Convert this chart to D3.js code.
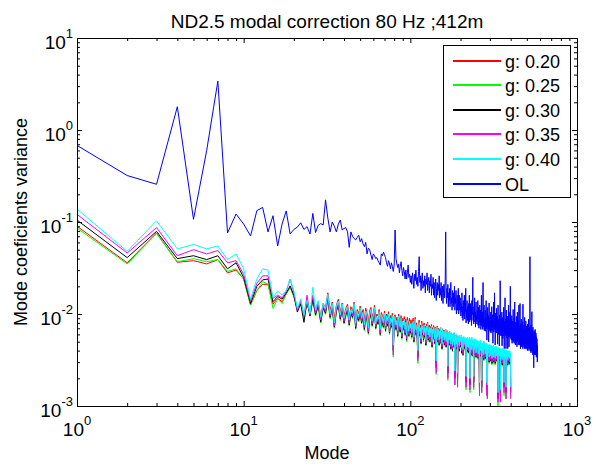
<!DOCTYPE html>
<html><head><meta charset="utf-8">
<script src="https://cdn.jsdelivr.net/npm/d3@7"></script>
<style>body{margin:0;background:#fff}svg text{font-family:"Liberation Sans",Arial,sans-serif;fill:#000}</style>
</head><body>
<svg id="chart" width="596" height="467"></svg>
<script>
const chartTitle = "ND2.5 modal correction 80 Hz ;412m";
const xLabel = "Mode";
const yLabel = "Mode coeficients variance";
const xTickValues = [1, 10, 100, 1000];
const xTickExponents = ["0", "1", "2", "3"];
const yTickValues = [0.001, 0.01, 0.1, 1, 10];
const yTickExponents = ["-3", "-2", "-1", "0", "1"];
const seriesNames = ["g: 0.20", "g: 0.25", "g: 0.30", "g: 0.35", "g: 0.40", "OL"];
const seriesColors = ["#ff0000", "#00ff00", "#000000", "#ff00ff", "#00ffff", "#0000ff"];

// variance per mode (mode = index + 1)
const g020 = [.090,.036,.076,.0365,.038,.035,.039,.028,.030,.024,.0125,.018,.021,.021,.0128,.0148,.0136,.0165,.0195,.0155,.0115,.0128,.0095,.0125,.0105,
.0150,.0112,.0135,.0095,.0130,
.0118,.0170,.0110,.0135,.0090,.0125,.0145,.0105,.0132,.0095,
.0115,.0128,.0092,.0120,.0108,.0135,.0085,.0112,.0100,.0122,
.0096,.0112,.0085,.0116,.0102,.0080,.0108,.0118,.0092,.0104,
.0124,.0088,.0100,.0095,.0112,.0078,.0104,.0096,.0088,.0108,
.0082,.0100,.0092,.0106,.0078,.0096,.0088,.0102,.0055,.0094,
.0098,.0084,.0092,.0074,.0100,.0086,.0080,.0096,.0070,.0090,
.0084,.0094,.0076,.0088,.0068,.0092,.0082,.0074,.0090,.0078,
.0086,.0072,.0084,.0090,.0066,.0082,.0092,.0076,.0080,.0070,
.0042,.0080,.0086,.0072,.0076,.0062,.0084,.0074,.0078,.0066,
.0080,.0068,.0074,.0058,.0078,.0070,.0082,.0064,.0072,.0076,
.0062,.0073,.0068,.0077,.0055,.0071,.0065,.0075,.0069,.0059,
.0072,.0065,.0030,.0068,.0074,.0060,.0066,.0070,.0056,.0068,
.0061,.0071,.0057,.0065,.0050,.0069,.0063,.0059,.0067,.0055,
.0064,.0058,.0068,.0052,.0062,.0066,.0056,.0026,.0063,.0059,
.0053,.0065,.0057,.0061,.0048,.0062,.0055,.0059,.0046,.0060,
.0056,.0050,.0062,.0054,.0022,.0057,.0051,.0059,.0047,.0055,
.0053,.0021,.0057,.0049,.0055,.0051,.0045,.0056,.0050,.0054,
.0046,.0055,.0040,.0050,.0048,.0053,.0038,.0049,.0054,.0044,
.0050,.0046,.0053,.0042,.0048,.0019,.0051,.0045,.0049,.0041,
.0053,.0046,.0048,.0040,.0050,.0044,.0053,.0018,.0047,.0045,
.0050,.0038,.0048,.0053,.0042,.0046,.0049,.0037,.0047,.0019,
.0048,.0044,.0050,.0038,.0046,.0042,.0049,.0036,.0045,.0047,
.0040,.0048,.0043,.0046,.0035,.0047,.0042,.0045,.0039,.0016,
.0046,.0042,.0048,.0037,.0044,.0040,.0046,.0017,.0043,.0041,
.0045,.0036,.0044,.0040,.0047,.0034,.0043,.0041,.0046,.0038,
.0042,.0044,.0035,.0043,.0040,.0045,.0033,.0016,.0042,.0015,
.0041,.0044,.0036,.0042,.0039,.0043,.0032,.0041,.0038,.0044,
.0037,.0042,.0039,.0033,.0043,.0040,.0038,.0042,.0031,.0041,
.0039,.0042,.0034,.0040,.0038,.0043,.0032,.0039,.0041,.0036,
.0040,.0038,.0031,.0041,.0037,.0039,.0042,.0033,.0038,.0040,
.0036,.0041,.0038,.0032,.0039,.0013,.0040,.0037,.0035,.0039,
.0038,.0033,.0040,.0036,.0039,.0030,.0014,.0038,.0035,.0039,
.0037,.0032,.0039,.0036,.0038,.0030,.0037,.0039,.0034,.0037,
.0035,.0038,.0032,.0037,.0017,.0036,.0038,.0033,.0037,.0035,
.0031,.0037,.0035,.0038,.0015,.0036,.0033,.0037,.0035,.0032,
.0037,.0034,.0036,.0030,.0037,.0035,.0032,.0036,.0034,.0037,
.0033,.0036,.0031,.0035,.0037,.0032,.0034,.0036,.0033,.0015];

const g025 = [.086,.035,.075,.037,.040,.037,.039,.029,.031,.024,.0125,.018,.0225,.021,.0115,.0147,.013,.0165,.0195,.0155,.011,.0128,.0092,.0135,.0096,
.0140,.0095,.0120,.0080,.0114,
.0099,.0145,.0089,.0114,.0070,.0105,.0121,.0085,.0112,.0078,
.0095,.0107,.0074,.0099,.0089,.0114,.0068,.0092,.0082,.0102,
.0078,.0090,.0066,.0095,.0083,.0060,.0087,.0097,.0073,.0085,
.0103,.0068,.0081,.0076,.0092,.0058,.0085,.0078,.0070,.0089,
.0064,.0082,.0073,.0087,.0060,.0078,.0070,.0083,.0034,.0076,
.0080,.0066,.0074,.0056,.0082,.0068,.0062,.0078,.0053,.0072,
.0066,.0076,.0058,.0070,.0050,.0074,.0064,.0056,.0072,.0060,
.0068,.0054,.0066,.0072,.0049,.0064,.0076,.0058,.0062,.0052,
.0029,.0064,.0070,.0056,.0060,.0047,.0068,.0058,.0062,.0050,
.0066,.0054,.0060,.0045,.0064,.0056,.0068,.0050,.0058,.0062,
.0049,.0060,.0054,.0064,.0043,.0058,.0052,.0062,.0056,.0047,
.0060,.0053,.0022,.0056,.0062,.0049,.0054,.0058,.0045,.0056,
.0050,.0060,.0047,.0054,.0041,.0058,.0052,.0049,.0056,.0045,
.0054,.0049,.0058,.0043,.0052,.0056,.0047,.0019,.0054,.0050,
.0045,.0056,.0049,.0052,.0041,.0054,.0047,.0050,.0039,.0052,
.0049,.0043,.0054,.0047,.0017,.0050,.0045,.0052,.0041,.0049,
.0047,.0016,.0050,.0043,.0049,.0045,.0039,.0050,.0044,.0048,
.0043,.0050,.0037,.0047,.0045,.0049,.0035,.0046,.0049,.0041,
.0047,.0043,.0049,.0039,.0045,.0015,.0048,.0042,.0046,.0038,
.0049,.0043,.0045,.0037,.0047,.0041,.0049,.0014,.0044,.0042,
.0047,.0035,.0045,.0049,.0039,.0043,.0046,.0034,.0044,.0015,
.0045,.0041,.0047,.0035,.0043,.0039,.0046,.0033,.0042,.0044,
.0037,.0045,.0040,.0043,.0032,.0044,.0039,.0042,.0036,.0013,
.0043,.0039,.0045,.0034,.0041,.0037,.0043,.0014,.0040,.0038,
.0042,.0033,.0041,.0037,.0044,.0031,.0040,.0038,.0043,.0035,
.0039,.0041,.0032,.0040,.0037,.0042,.0030,.0013,.0039,.0012,
.0038,.0041,.0033,.0039,.0036,.0040,.0029,.0038,.0035,.0041,
.0034,.0039,.0036,.0030,.0040,.0037,.0035,.0039,.0028,.0038,
.0036,.0039,.0031,.0037,.0035,.0040,.0029,.0036,.0038,.0033,
.0037,.0035,.0028,.0038,.0034,.0036,.0039,.0030,.0035,.0037,
.0033,.0038,.0035,.0029,.0036,.0010,.0037,.0034,.0032,.0036,
.0035,.0030,.0037,.0033,.0036,.0027,.0011,.0035,.0032,.0036,
.0034,.0029,.0036,.0033,.0035,.0027,.0034,.0036,.0031,.0034,
.0032,.0035,.0029,.0034,.0013,.0033,.0035,.0030,.0034,.0032,
.0028,.0034,.0032,.0035,.0012,.0033,.0030,.0034,.0032,.0029,
.0034,.0031,.0033,.0027,.0034,.0032,.0029,.0033,.0031,.0034,
.0030,.0033,.0028,.0032,.0034,.0029,.0031,.0033,.0030,.0012];

const g030 = [.105,.041,.079,.040,.043,.039,.043,.031,.036,.025,.013,.020,.0235,.024,.0136,.0155,.0145,.0169,.0202,.016,.0105,.013,.0081,.014,.0095,
.0145,.0098,.0125,.0082,.0118,
.0102,.0150,.0092,.0118,.0072,.0108,.0125,.0088,.0115,.0080,
.0098,.0110,.0076,.0102,.0092,.0118,.0070,.0095,.0085,.0105,
.0080,.0093,.0068,.0098,.0086,.0062,.0090,.0100,.0075,.0088,
.0106,.0070,.0084,.0078,.0095,.0060,.0088,.0080,.0072,.0092,
.0066,.0085,.0075,.0090,.0062,.0080,.0072,.0086,.0040,.0078,
.0082,.0068,.0076,.0058,.0085,.0070,.0064,.0080,.0055,.0074,
.0068,.0078,.0060,.0072,.0052,.0076,.0066,.0058,.0074,.0062,
.0070,.0056,.0068,.0074,.0050,.0066,.0078,.0060,.0064,.0054,
.0034,.0066,.0072,.0058,.0062,.0048,.0070,.0060,.0064,.0052,
.0068,.0056,.0062,.0046,.0066,.0058,.0070,.0052,.0060,.0064,
.0050,.0062,.0056,.0066,.0044,.0060,.0054,.0064,.0058,.0048,
.0062,.0055,.0026,.0058,.0064,.0050,.0056,.0060,.0046,.0058,
.0052,.0062,.0048,.0056,.0042,.0060,.0054,.0050,.0058,.0046,
.0056,.0050,.0060,.0044,.0054,.0058,.0048,.0023,.0056,.0052,
.0046,.0058,.0050,.0054,.0042,.0056,.0048,.0052,.0040,.0054,
.0050,.0044,.0056,.0048,.0020,.0052,.0046,.0054,.0042,.0050,
.0048,.0019,.0052,.0044,.0050,.0046,.0040,.0052,.0045,.0049,
.0044,.0052,.0038,.0048,.0046,.0050,.0036,.0047,.0051,.0042,
.0048,.0044,.0050,.0040,.0046,.0018,.0049,.0043,.0047,.0039,
.0050,.0044,.0046,.0038,.0048,.0042,.0050,.0017,.0045,.0043,
.0048,.0036,.0046,.0050,.0040,.0044,.0047,.0035,.0045,.0018,
.0046,.0042,.0048,.0036,.0044,.0040,.0047,.0034,.0043,.0045,
.0038,.0046,.0041,.0044,.0033,.0045,.0040,.0043,.0037,.0015,
.0044,.0040,.0046,.0035,.0042,.0038,.0044,.0016,.0041,.0039,
.0043,.0034,.0042,.0038,.0045,.0032,.0041,.0039,.0044,.0036,
.0040,.0042,.0033,.0041,.0038,.0043,.0031,.0015,.0040,.0014,
.0039,.0042,.0034,.0040,.0037,.0041,.0030,.0039,.0036,.0042,
.0035,.0040,.0037,.0031,.0041,.0038,.0036,.0040,.0029,.0039,
.0037,.0040,.0032,.0038,.0036,.0041,.0030,.0037,.0039,.0034,
.0038,.0036,.0029,.0039,.0035,.0037,.0040,.0031,.0036,.0038,
.0034,.0039,.0036,.0030,.0037,.0012,.0038,.0035,.0033,.0037,
.0036,.0031,.0038,.0034,.0037,.0028,.0013,.0036,.0033,.0037,
.0035,.0030,.0037,.0034,.0036,.0028,.0035,.0037,.0032,.0035,
.0033,.0036,.0030,.0035,.0016,.0034,.0036,.0031,.0035,.0033,
.0029,.0035,.0033,.0036,.0014,.0034,.0031,.0035,.0033,.0030,
.0035,.0032,.0034,.0028,.0035,.0033,.0030,.0034,.0032,.0035,
.0031,.0034,.0029,.0033,.0035,.0030,.0032,.0034,.0031,.0014];

const g035 = [.121,.046,.087,.043,.050,.045,.049,.036,.038,.027,.0138,.0216,.026,.026,.0148,.016,.015,.0175,.024,.017,.011,.014,.0095,.016,.0098,
.0160,.0102,.0130,.0086,.0122,
.0106,.0158,.0096,.0124,.0074,.0112,.0130,.0092,.0120,.0083,
.0102,.0115,.0079,.0107,.0096,.0124,.0073,.0099,.0089,.0110,
.0083,.0097,.0071,.0103,.0090,.0064,.0094,.0105,.0078,.0092,
.0111,.0073,.0088,.0081,.0099,.0062,.0092,.0084,.0075,.0096,
.0069,.0089,.0078,.0094,.0064,.0084,.0075,.0090,.0036,.0081,
.0086,.0071,.0079,.0060,.0089,.0073,.0067,.0084,.0057,.0077,
.0071,.0082,.0062,.0075,.0054,.0079,.0069,.0060,.0077,.0065,
.0073,.0058,.0071,.0077,.0052,.0069,.0082,.0062,.0067,.0056,
.0031,.0069,.0075,.0060,.0065,.0050,.0073,.0062,.0067,.0054,
.0071,.0058,.0065,.0048,.0069,.0060,.0073,.0054,.0062,.0067,
.0052,.0065,.0058,.0069,.0046,.0062,.0056,.0067,.0060,.0050,
.0065,.0057,.0023,.0060,.0067,.0052,.0058,.0062,.0048,.0060,
.0054,.0065,.0050,.0058,.0044,.0062,.0056,.0052,.0060,.0048,
.0058,.0052,.0062,.0046,.0056,.0060,.0050,.0020,.0058,.0054,
.0048,.0060,.0052,.0056,.0044,.0058,.0050,.0054,.0042,.0056,
.0052,.0046,.0058,.0050,.0017,.0054,.0048,.0056,.0044,.0052,
.0050,.0016,.0054,.0046,.0052,.0048,.0042,.0054,.0047,.0051,
.0046,.0054,.0040,.0050,.0048,.0052,.0037,.0049,.0053,.0044,
.0050,.0046,.0052,.0042,.0048,.0016,.0051,.0045,.0049,.0041,
.0052,.0046,.0048,.0040,.0050,.0044,.0052,.0015,.0047,.0045,
.0050,.0037,.0048,.0052,.0042,.0046,.0049,.0036,.0047,.0016,
.0048,.0044,.0050,.0037,.0046,.0042,.0049,.0035,.0045,.0047,
.0040,.0048,.0043,.0046,.0034,.0047,.0042,.0045,.0038,.0013,
.0046,.0042,.0048,.0036,.0044,.0040,.0046,.0014,.0043,.0041,
.0045,.0035,.0044,.0040,.0047,.0033,.0043,.0041,.0046,.0037,
.0042,.0044,.0034,.0043,.0040,.0045,.0032,.0013,.0042,.0012,
.0041,.0044,.0035,.0042,.0039,.0043,.0031,.0041,.0038,.0044,
.0036,.0042,.0039,.0032,.0043,.0040,.0038,.0042,.0030,.0041,
.0039,.0042,.0033,.0040,.0038,.0043,.0031,.0039,.0041,.0035,
.0040,.0038,.0030,.0041,.0037,.0039,.0042,.0032,.0038,.0040,
.0035,.0041,.0038,.0031,.0039,.0011,.0040,.0037,.0034,.0039,
.0038,.0032,.0040,.0035,.0039,.0029,.0011,.0038,.0034,.0039,
.0037,.0031,.0039,.0035,.0038,.0029,.0037,.0039,.0033,.0037,
.0034,.0038,.0031,.0037,.0014,.0035,.0038,.0032,.0037,.0034,
.0030,.0037,.0034,.0038,.0012,.0035,.0032,.0037,.0034,.0031,
.0037,.0033,.0035,.0029,.0037,.0034,.0031,.0035,.0033,.0037,
.0032,.0035,.0030,.0034,.0037,.0031,.0033,.0035,.0032,.0012];

const g040 = [.138,.048,.103,.051,.057,.051,.055,.039,.045,.031,.0145,.024,.031,.030,.0151,.0178,.016,.0181,.024,.018,.0115,.0146,.0097,.0141,.0101,
.0195,.0110,.0140,.0092,.0130,
.0115,.0165,.0100,.0130,.0080,.0122,.0138,.0098,.0128,.0090,
.0108,.0122,.0086,.0112,.0104,.0130,.0079,.0106,.0094,.0116,
.0090,.0104,.0076,.0108,.0096,.0070,.0100,.0112,.0084,.0098,
.0118,.0078,.0094,.0088,.0106,.0068,.0098,.0090,.0081,.0102,
.0074,.0095,.0084,.0100,.0070,.0090,.0081,.0096,.0046,.0087,
.0092,.0076,.0085,.0066,.0095,.0078,.0072,.0090,.0062,.0083,
.0076,.0088,.0068,.0081,.0059,.0085,.0074,.0065,.0083,.0070,
.0079,.0063,.0076,.0083,.0056,.0074,.0088,.0068,.0072,.0061,
.0040,.0074,.0081,.0065,.0070,.0054,.0079,.0068,.0072,.0059,
.0076,.0063,.0070,.0052,.0074,.0065,.0079,.0059,.0068,.0072,
.0056,.0070,.0063,.0074,.0050,.0068,.0061,.0072,.0065,.0054,
.0070,.0062,.0031,.0065,.0072,.0056,.0063,.0068,.0052,.0065,
.0059,.0070,.0054,.0063,.0047,.0068,.0061,.0056,.0065,.0052,
.0063,.0056,.0068,.0050,.0061,.0065,.0054,.0027,.0063,.0059,
.0052,.0065,.0056,.0061,.0047,.0063,.0054,.0059,.0045,.0061,
.0056,.0050,.0063,.0054,.0024,.0059,.0052,.0061,.0047,.0056,
.0054,.0023,.0059,.0050,.0056,.0052,.0045,.0059,.0051,.0055,
.0050,.0059,.0043,.0054,.0052,.0056,.0041,.0053,.0057,.0047,
.0054,.0050,.0056,.0045,.0052,.0021,.0055,.0048,.0053,.0044,
.0056,.0050,.0052,.0043,.0054,.0047,.0056,.0020,.0051,.0048,
.0054,.0041,.0052,.0056,.0045,.0050,.0053,.0040,.0051,.0021,
.0052,.0047,.0054,.0041,.0050,.0045,.0053,.0038,.0048,.0051,
.0043,.0052,.0046,.0050,.0037,.0051,.0045,.0048,.0042,.0018,
.0050,.0045,.0052,.0040,.0047,.0043,.0050,.0019,.0046,.0044,
.0048,.0038,.0047,.0043,.0051,.0036,.0046,.0044,.0050,.0041,
.0045,.0047,.0037,.0046,.0043,.0048,.0035,.0018,.0045,.0017,
.0044,.0047,.0038,.0045,.0042,.0046,.0034,.0044,.0041,.0047,
.0040,.0045,.0042,.0035,.0046,.0043,.0041,.0045,.0033,.0044,
.0042,.0045,.0036,.0043,.0041,.0046,.0034,.0042,.0044,.0038,
.0043,.0041,.0033,.0044,.0040,.0042,.0045,.0035,.0041,.0043,
.0038,.0044,.0041,.0034,.0042,.0014,.0043,.0040,.0037,.0042,
.0041,.0035,.0043,.0038,.0042,.0032,.0015,.0041,.0037,.0042,
.0040,.0034,.0042,.0038,.0041,.0032,.0040,.0042,.0036,.0040,
.0037,.0041,.0034,.0040,.0018,.0038,.0041,.0035,.0040,.0037,
.0033,.0040,.0037,.0041,.0016,.0038,.0035,.0040,.0037,.0034,
.0040,.0036,.0038,.0032,.0040,.0037,.0034,.0038,.0036,.0040,
.0035,.0038,.0033,.0037,.0040,.0034,.0036,.0038,.0035,.0016];

const openLoop = [.68,.32,.257,1.79,.107,.6,3.4,.076,.122,.095,.0705,.133,.144,.078,.117,.055,.095,.132,.074,.083,
.088,.098,.083,.089,.074,.124,.077,.092,.096,.093,
.174,.11,.078,.1,.09,.078,.095,.105,.082,.085,
.087,.078,.053,.078,.07,.066,.064,.068,.072,.061,
.066,.058,.054,.06,.045,.052,.05,.044,.039,.045,
.043,.04,.041,.038,.036,.034,.045,.043,.047,.044,
.041,.036,.033,.038,.035,.031,.036,.033,.029,.034,
.082,.04,.035,.032,.035,.028,.033,.037,.03,.026,
.032,.029,.024,.03,.024,.028,.034,.025,.027,.022,
.026,.021,.028,.024,.019,.027,.023,.03,.021,.025,
.02,.029,.042,.022,.026,.018,.024,.028,.019,.023,
.02,.026,.017,.024,.021,.028,.018,.022,.025,.017,
.023,.02,.027,.016,.021,.019,.025,.016,.022,.015,
.02,.024,.014,.019,.022,.016,.021,.018,.026,.015,
.019,.016,.022,.014,.018,.02,.013,.017,.021,.015,
.018,.024,.078,.016,.013,.019,.015,.021,.012,.017,
.014,.019,.012,.016,.022,.013,.015,.011,.018,.014,
.012,.017,.013,.02,.011,.015,.013,.018,.010,.012,
.016,.011,.014,.019,.010,.013,.016,.011,.015,.012,
.0095,.013,.0105,.017,.009,.012,.0085,.014,.011,.0095,
.016,.0088,.012,.0105,.019,.008,.011,.0092,.014,.0085,
.012,.0098,.0078,.013,.0105,.016,.0082,.011,.0092,.013,
.0086,.0118,.0075,.014,.0098,.012,.025,.0085,.0105,.0078,
.012,.0092,.015,.0082,.0105,.0072,.011,.0135,.0085,.0098,
.0078,.011,.0088,.014,.0075,.0095,.0118,.007,.0098,.0082,
.0125,.0076,.0092,.011,.0068,.0088,.016,.0074,.0095,.0082,
.0105,.0068,.022,.0085,.0072,.0098,.0125,.0066,.0088,.0078,
.011,.0065,.0092,.0078,.014,.007,.0086,.0052,.0102,.0076,
.0118,.0068,.0082,.0096,.005,.0088,.0132,.0072,.0084,.0066,
.0092,.0064,.0078,.0105,.0062,.0082,.0071,.012,.0066,.0085,
.0075,.0098,.0048,.0082,.0072,.0135,.0064,.0078,.0092,.017,
.0068,.0084,.0046,.0076,.0102,.0064,.0082,.0072,.0115,.0062,
.0078,.0068,.0094,.0047,.0074,.0125,.006,.0072,.0088,.0064,
.0082,.0045,.0074,.0098,.0062,.023,.0066,.0078,.0058,.0072,
.0088,.0058,.0068,.0105,.0045,.0074,.0064,.0092,.0054,.0068,
.0078,.0058,.0118,.0062,.0072,.0042,.0084,.0064,.0098,.015,
.0058,.0074,.0062,.0088,.0042,.0068,.011,.006,.0072,.0055,
.0082,.0062,.0095,.0042,.0066,.0078,.0056,.0125,.006,.0072,
.0044,.0068,.0088,.0056,.0064,.0105,.0058,.02,.0062,.0074,
.0054,.0068,.0088,.0052,.0062,.0096,.0056,.0048,.0072,.0058,
.0084,.0052,.0065,.0112,.005,.0062,.0074,.0054,.0088,.0048,
.0066,.0058,.0135,.0052,.0064,.0078,.0046,.006,.0082,.0054,
.0068,.0048,.0094,.0056,.0062,.0044,.0076,.0058,.0105,.005,
.0064,.0056,.0072,.0046,.0085,.0054,.006,.0125,.0048,.0062,
.0056,.0074,.0046,.0058,.013,.005,.0066,.0042,.0078,.0054,
.006,.0046,.0088,.0052,.0062,.0044,.0072,.0056,.0048,.0082,
.0052,.0064,.0042,.0128,.0054,.0046,.0068,.0052,.0058,.0044,
.0076,.005,.0062,.0042,.0092,.0052,.0056,.0046,.007,.0048,
.0058,.0042,.0084,.005,.0062,.0044,.0074,.0048,.0056,.0042,
.0068,.0046,.0054,.004,.0078,.0048,.0058,.0042,.0064,.0046,
.0052,.0088,.0044,.0056,.004,.0066,.0048,.0054,.0042,.0072,
.0046,.042,.0048,.0058,.004,.0064,.0046,.0052,.0038,.0076,
.0044,.0056,.004,.0062,.0046,.0106,.0042,.0054,.0038,.0066,
.0044,.0052,.0036,.0072,.0042,.0056,.004,.0062,.0044,.0026,
.0058,.004,.0066,.0044,.0052,.0036,.0064,.0042,.0054,.0038,
.0068,.0042,.005,.0036,.0058,.004,.0062,.0044,.0052,.0034,
.0056,.004,.0048,.0034,.0054,.0038,.0046,.003,.0044,.0036];

const allSeries = [g020, g025, g030, g035, g040, openLoop];

const W = 596, H = 467;
const margin = {left: 77, right: 19, top: 38, bottom: 61};
const svg = d3.select("#chart");
const x = d3.scaleLog().domain([1, 1000]).range([margin.left, W - margin.right]);
const y = d3.scaleLog().domain([0.001, 10]).range([H - margin.bottom, margin.top]);

svg.append("rect").attr("width", W).attr("height", H).attr("fill", "#fff");

// series lines
const line = d3.line().x((d, i) => x(i + 1)).y(d => y(d));
const plot = svg.append("g");
allSeries.forEach((s, k) => {
  plot.append("path").datum(s).attr("d", line)
    .attr("fill", "none").attr("stroke", seriesColors[k]).attr("stroke-width", 1)
    .attr("stroke-linejoin", "miter").attr("stroke-miterlimit", 2);
});

// minor tick values
const minorX = [], minorY = [];
for (let e = 0; e < 3; e++) for (let m = 2; m <= 9; m++) minorX.push(m * Math.pow(10, e));
for (let e = -3; e < 1; e++) for (let m = 2; m <= 9; m++) minorY.push(+(m * Math.pow(10, e)).toPrecision(3));

function tickAxis(gen, scale, vals, size, tr) {
  const a = gen(scale).tickValues(vals).tickSizeInner(-size).tickSizeOuter(0).tickFormat("");
  svg.append("g").attr("transform", tr).call(a).call(g => g.select(".domain").remove())
    .selectAll("line").attr("stroke", "#000");
}
const x0 = margin.left, x1 = W - margin.right, y0 = H - margin.bottom, y1 = margin.top;
[[xTickValues, 5], [minorX, 3]].forEach(([v, s]) => {
  tickAxis(d3.axisBottom, x, v, s, `translate(0,${y0})`);
  tickAxis(d3.axisTop, x, v, s, `translate(0,${y1})`);
});
[[yTickValues, 5], [minorY, 3]].forEach(([v, s]) => {
  tickAxis(d3.axisLeft, y, v, s, `translate(${x0},0)`);
  tickAxis(d3.axisRight, y, v, s, `translate(${x1},0)`);
});

// box
svg.append("rect").attr("x", x0 + 0.5).attr("y", y1 + 0.5)
  .attr("width", x1 - x0).attr("height", y0 - y1)
  .attr("fill", "none").attr("stroke", "#000").attr("stroke-width", 1);

// tick labels
const baseFont = 19, expFont = 13;
xTickValues.forEach((v, i) => {
  const t = svg.append("text").attr("x", x(v)).attr("y", y0 + 30)
    .attr("text-anchor", "middle").attr("font-size", baseFont);
  t.append("tspan").text("10");
  t.append("tspan").attr("font-size", expFont).attr("dy", -11).text(xTickExponents[i]);
});
yTickValues.forEach((v, i) => {
  const t = svg.append("text").attr("x", x0 - 4).attr("y", y(v) + 11)
    .attr("text-anchor", "end").attr("font-size", baseFont);
  t.append("tspan").text("10");
  t.append("tspan").attr("font-size", expFont).attr("dy", -11).text(yTickExponents[i]);
});

// title and axis labels
svg.append("text").attr("x", (x0 + x1) / 2).attr("y", 28).attr("text-anchor", "middle")
  .attr("font-size", 19).text(chartTitle);
svg.append("text").attr("x", (x0 + x1) / 2).attr("y", 459).attr("text-anchor", "middle")
  .attr("font-size", 18).text(xLabel);
svg.append("text").attr("transform", `translate(27,${(y0 + y1) / 2}) rotate(-90)`)
  .attr("text-anchor", "middle").attr("font-size", 18).text(yLabel);

// legend
const lg = svg.append("g");
lg.append("rect").attr("x", 443.5).attr("y", 45.5).attr("width", 127).attr("height", 152)
  .attr("fill", "#fff").attr("stroke", "#000").attr("stroke-width", 1);
seriesNames.forEach((n, i) => {
  const cy = Math.round(60.5 + i * 24.6);
  lg.append("line").attr("x1", 453).attr("x2", 501).attr("y1", cy).attr("y2", cy)
    .attr("stroke", seriesColors[i]).attr("stroke-width", 2);
  lg.append("text").attr("x", 505).attr("y", cy + 6.5).attr("font-size", 18).text(n);
});
</script>
</body></html>
